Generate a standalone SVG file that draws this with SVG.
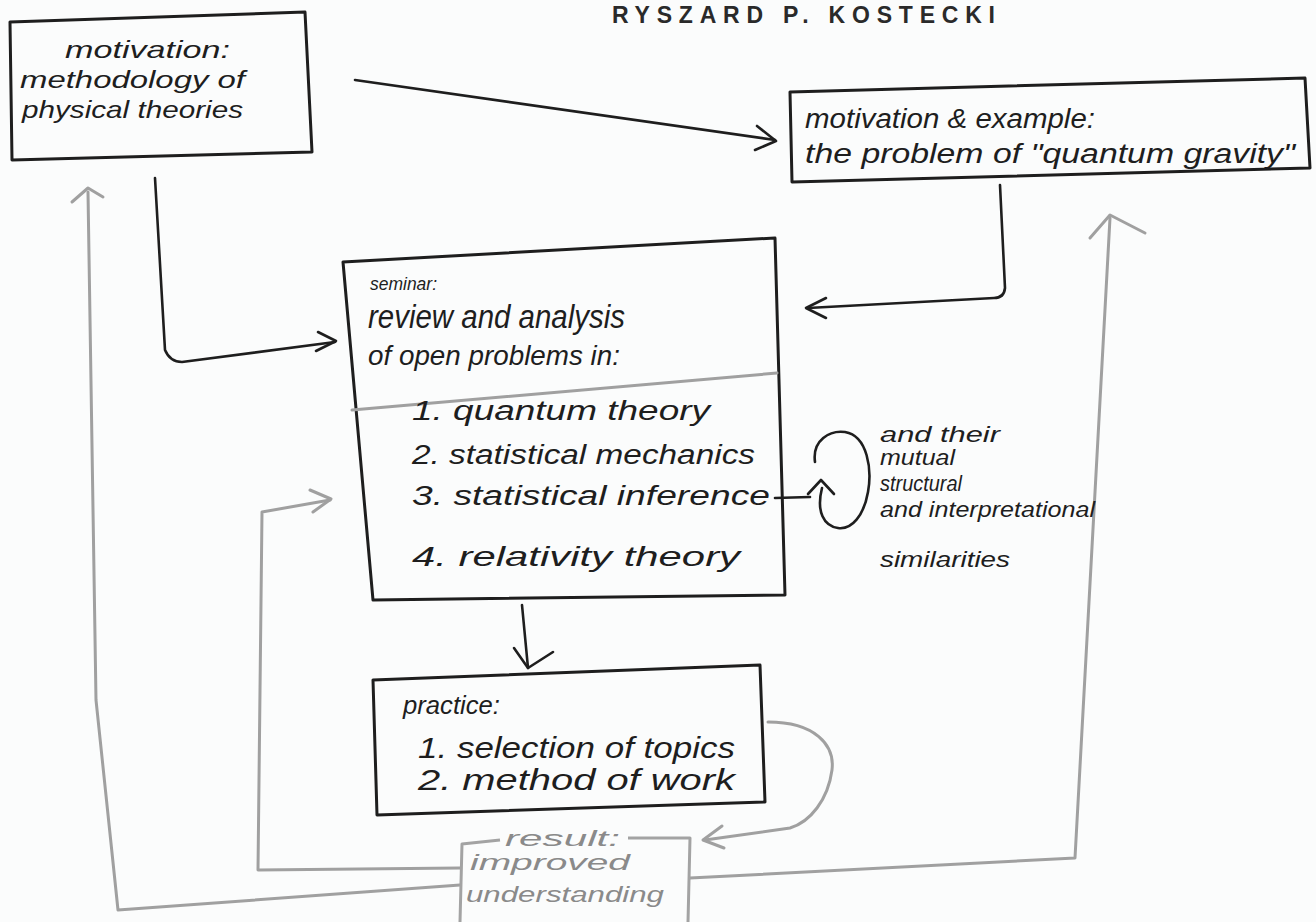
<svg xmlns="http://www.w3.org/2000/svg" width="1316" height="922" viewBox="0 0 1316 922">
<defs>
<style>
.bg{fill:#fbfcfc}
.box{fill:none;stroke:#1e1e1e;stroke-width:3;stroke-linejoin:round}
.gbox{fill:none;stroke:#a3a3a3;stroke-width:3;stroke-linejoin:round}
.ink{fill:none;stroke:#1e1e1e;stroke-width:2.6;stroke-linecap:round;stroke-linejoin:round}
.grey{fill:none;stroke:#a0a0a0;stroke-width:3;stroke-linecap:round;stroke-linejoin:round}
.t{font-family:"Liberation Sans","DejaVu Sans",sans-serif;font-style:italic;fill:#1e1e1e}
.gt{font-family:"Liberation Sans","DejaVu Sans",sans-serif;font-style:italic;fill:#8a8a8a}
.title{font-family:"Liberation Sans","DejaVu Sans",sans-serif;font-weight:bold;fill:#2a2a2a;font-size:23px}
</style>
</defs>
<rect class="bg" x="0" y="0" width="1316" height="922"/>
<text class="title" x="612" y="23" textLength="383" lengthAdjust="spacing">RYSZARD P. KOSTECKI</text>

<g id="connectors">
  <!-- top-left box to top-right box -->
  <path class="ink" d="M355,80 L775,140"/>
  <path class="ink" d="M757,126 L776,141 L755,150"/>
  <!-- top-left box down to seminar -->
  <path class="ink" d="M155,178 L165,350 Q170,362 182,362 L335,342"/>
  <path class="ink" d="M318,332 L336,341 L316,351"/>
  <!-- top-right box down to seminar -->
  <path class="ink" d="M1000,185 L1005,288 Q1004,298 994,298 L808,308"/>
  <path class="ink" d="M826,298 L806,308 L826,318"/>
  <!-- seminar to practice -->
  <path class="ink" d="M522,605 L528,668"/>
  <path class="ink" d="M514,648 L528,668 L553,652"/>
  <!-- self loop: mutual similarities -->
  <path class="ink" d="M775,498 L810,497"/>
  <path class="ink" d="M815,462 C812,440 830,430 845,432 C868,436 872,470 868,492 C864,515 852,530 838,528 C824,526 816,512 822,488"/>
  <path class="ink" d="M808,494 L821,480 L834,494"/>
  <!-- practice to result (grey) -->
  <path class="grey" d="M768,722 C815,722 835,745 832,770 C828,800 810,822 790,828 L705,840"/>
  <path class="grey" d="M722,826 L703,840 L724,848"/>
  <!-- result to top-left (grey) -->
  <path class="grey" d="M460,885 L118,910 L96,700 L88,192"/>
  <path class="grey" d="M72,202 L88,188 L103,197"/>
  <!-- result back to seminar (grey) -->
  <path class="grey" d="M460,868 L258,870 L262,512 L330,500"/>
  <path class="grey" d="M310,490 L331,499 L313,512"/>
  <!-- result to top-right (grey) -->
  <path class="grey" d="M690,878 L1075,858 L1110,218"/>
  <path class="grey" d="M1090,238 L1110,215 L1145,233"/>
</g>

<g id="node-methodology">
  <path class="box" d="M10,22 L305,12 L312,152 L12,160 Z"/>
  <text class="t" x="65" y="58" font-size="24" textLength="165" lengthAdjust="spacingAndGlyphs">motivation:</text>
  <text class="t" x="20" y="88" font-size="24" textLength="225" lengthAdjust="spacingAndGlyphs">methodology of</text>
  <text class="t" x="22" y="118" font-size="24" textLength="221" lengthAdjust="spacingAndGlyphs">physical theories</text>
</g>

<g id="node-quantum-gravity">
  <path class="box" d="M790,92 L1305,78 L1310,168 L792,182 Z"/>
  <text class="t" x="805" y="128" font-size="27" textLength="290" lengthAdjust="spacingAndGlyphs">motivation &amp; example:</text>
  <text class="t" x="805" y="163" font-size="27" textLength="490" lengthAdjust="spacingAndGlyphs">the problem of "quantum gravity"</text>
</g>

<g id="node-seminar">
  <path class="box" d="M343,262 L775,238 L785,595 L373,600 Z"/>
  <text class="t" x="370" y="290" font-size="19" textLength="67" lengthAdjust="spacingAndGlyphs">seminar:</text>
  <text class="t" x="368" y="328" font-size="34" textLength="257" lengthAdjust="spacingAndGlyphs">review and analysis</text>
  <text class="t" x="368" y="365" font-size="27" textLength="252" lengthAdjust="spacingAndGlyphs">of open problems in:</text>
  <path class="grey" d="M352,410 L777,373"/>
  <text class="t" x="412" y="420" font-size="27" textLength="298" lengthAdjust="spacingAndGlyphs">1. quantum theory</text>
  <text class="t" x="412" y="464" font-size="27" textLength="343" lengthAdjust="spacingAndGlyphs">2. statistical mechanics</text>
  <text class="t" x="412" y="505" font-size="27" textLength="358" lengthAdjust="spacingAndGlyphs">3. statistical inference</text>
  <text class="t" x="412" y="566" font-size="28" textLength="328" lengthAdjust="spacingAndGlyphs">4. relativity theory</text>
</g>

<g id="node-similarities">
  <text class="t" x="880" y="442" font-size="22" textLength="120" lengthAdjust="spacingAndGlyphs">and their</text>
  <text class="t" x="880" y="465" font-size="22" textLength="75" lengthAdjust="spacingAndGlyphs">mutual</text>
  <text class="t" x="880" y="491" font-size="22" textLength="82" lengthAdjust="spacingAndGlyphs">structural</text>
  <text class="t" x="880" y="517" font-size="22" textLength="215" lengthAdjust="spacingAndGlyphs">and interpretational</text>
  <text class="t" x="880" y="567" font-size="22" textLength="130" lengthAdjust="spacingAndGlyphs">similarities</text>
</g>

<g id="node-practice">
  <path class="box" d="M373,680 L760,665 L765,802 L377,815 Z"/>
  <text class="t" x="403" y="714" font-size="26" textLength="97" lengthAdjust="spacingAndGlyphs">practice:</text>
  <text class="t" x="418" y="758" font-size="29" textLength="317" lengthAdjust="spacingAndGlyphs">1. selection of topics</text>
  <text class="t" x="418" y="790" font-size="29" textLength="317" lengthAdjust="spacingAndGlyphs">2. method of work</text>
</g>

<g id="node-result">
  <path class="gbox" d="M500,840 L462,844 L460,922"/>
  <path class="gbox" d="M628,838 L690,838 L688,922"/>
  <text class="gt" x="505" y="846" font-size="22" textLength="115" lengthAdjust="spacingAndGlyphs">result:</text>
  <text class="gt" x="470" y="870" font-size="22" textLength="160" lengthAdjust="spacingAndGlyphs">improved</text>
  <text class="gt" x="466" y="902" font-size="22" textLength="198" lengthAdjust="spacingAndGlyphs">understanding</text>
</g>
</svg>
